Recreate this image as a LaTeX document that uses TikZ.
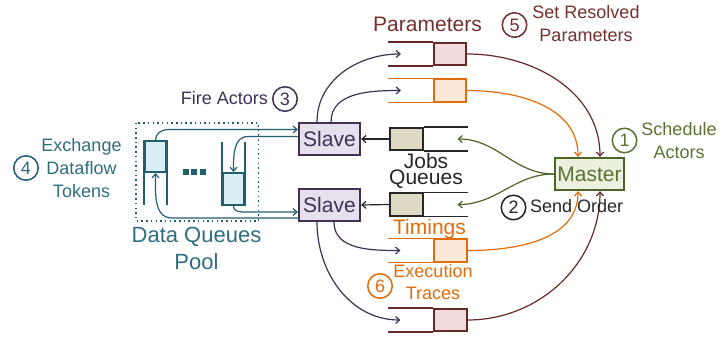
\documentclass[tikz,border=0pt]{standalone}
\usepackage{fontspec}
\setmainfont{Liberation Sans}
\usetikzlibrary{arrows.meta,calc}
\definecolor{cMar}{HTML}{66292A}
\definecolor{cMarT}{HTML}{74302F}
\definecolor{cMarL}{HTML}{F2DCDB}
\definecolor{cOra}{HTML}{E26B0A}
\definecolor{cOraL}{HTML}{FDE9D9}
\definecolor{cPur}{HTML}{403152}
\definecolor{cPurL}{HTML}{E5E0EC}
\definecolor{cGrn}{HTML}{4F6228}
\definecolor{cGrnT}{HTML}{5B7332}
\definecolor{cGrnL}{HTML}{EBF1DE}
\definecolor{cTeal}{HTML}{215E6E}
\definecolor{cTealT}{HTML}{2E6E80}
\definecolor{cTealL}{HTML}{DAEEF3}
\definecolor{cJob}{HTML}{DDD9C3}
\definecolor{cDark}{HTML}{262626}
\begin{document}
\begin{tikzpicture}[x=1pt,y=1pt,
  actor/.style={draw, line width=2.2pt, minimum width=61pt, minimum height=32pt, inner sep=0pt, font=\fontsize{21}{21}\selectfont},
  qbox/.style={draw, line width=1.6pt, minimum width=32.5pt, minimum height=22.5pt, inner sep=0pt},
  qline/.style={line width=1.6pt},
  arr/.style={line width=1.2pt, -{Straight Barb[length=4pt,width=7pt]}},
  num/.style={circle, draw, line width=1.5pt, minimum size=24.5pt, inner sep=0pt, font=\fontsize{18}{18}\selectfont},
  lab/.style={inner sep=0pt, align=center, font=\fontsize{18}{23}\selectfont},
  big/.style={inner sep=0pt, align=center, font=\fontsize{21}{16}\selectfont}]
\useasboundingbox (0,0) rectangle (719,339);

% actors
\node[actor, draw=cPur, fill=cPurL, text=cPur] (s1) at (329.5,200) {Slave};
\node[actor, draw=cPur, fill=cPurL, text=cPur] (s2) at (329.5,134) {Slave};
\node[actor, minimum width=69pt, draw=cGrn, fill=cGrnL, text=cGrnT] (m) at (589.5,165) {Master};

% parameter queues
\node[qbox, draw=cMar, fill=cMarL] (pq) at (450,285) {};
\draw[qline, cMar] (pq.north west) -- ++(-45,0) (pq.south west) -- ++(-45,0);
\node[qbox, draw=cOra, fill=cOraL] (po) at (450,248.5) {};
\draw[qline, cOra] (po.north west) -- ++(-45,0) (po.south west) -- ++(-45,0);
% jobs queues
\node[qbox, draw=cDark, fill=cJob] (j1) at (406.5,200) {};
\draw[qline, cDark] (j1.north east) -- ++(44,0) (j1.south east) -- ++(44,0);
\node[qbox, draw=cDark, fill=cJob] (j2) at (406.5,134.5) {};
\draw[qline, cDark] (j2.north east) -- ++(44,0) (j2.south east) -- ++(44,0);
% timings and traces queues
\node[qbox, draw=cOra, fill=cOraL] (tq) at (450.5,88.5) {};
\draw[qline, cOra] (tq.north west) -- ++(-45,0) (tq.south west) -- ++(-45,0);
\node[qbox, draw=cMar, fill=cMarL] (xq) at (450.5,19) {};
\draw[qline, cMar] (xq.north west) -- ++(-45,0) (xq.south west) -- ++(-45,0);

% data queues pool
\draw[cTeal, line width=1.5pt, dash pattern=on 1.5pt off 3.2pt] (136,216) rectangle (258.5,118);
\node[qbox, minimum width=21.5pt, minimum height=31.5pt, draw=cTeal, fill=cTealL] (lq) at (155.5,182.5) {};
\draw[qline, cTeal] (lq.north west) -- ++(0,-65) (lq.north east) -- ++(0,-65);
\node[qbox, minimum width=21.5pt, minimum height=32.5pt, draw=cTeal, fill=cTealL] (rq) at (233.5,150) {};
\draw[qline, cTeal] (rq.south west) -- ++(0,64) (rq.south east) -- ++(0,64);
\foreach \dx in {185.5,194,202.5} \fill[cTeal] (\dx-3,164) rectangle (\dx+3,170);

% teal arrows
\draw[arr, cTeal] (lq.north) to[out=90,in=180] (168,209.5) -- ([yshift=9.5pt]s1.west);
\draw[arr, cTeal] ([yshift=2.5pt]s1.west) -- (248,202.5) to[out=180,in=90] (rq.north);
\draw[arr, cTeal] (rq.south) to[out=-90,in=180] (250,127) -- ([yshift=-7pt]s2.west);
\draw[arr, cTeal] ([yshift=-13pt]s2.west) -- (172,121) to[out=180,in=-90] (lq.south);

% slave outputs
\draw[arr, cPur] ([xshift=-12.5pt]s1.north) to[out=90,in=180] ([xshift=-32pt]pq.west);
\draw[arr, cPur] ([xshift=1.5pt]s1.north) to[out=90,in=180] ([xshift=-32pt]po.west);
\draw[arr, cPur] ([xshift=4.5pt]s2.south) to[out=-90,in=180] ([xshift=-33pt]tq.west);
\draw[arr, cPur] ([xshift=-12.5pt]s2.south) to[out=-90,in=180] ([xshift=-33pt]xq.west);

% jobs to slaves
\draw[arr, cDark] (j1.west) -- (s1.east);
\draw[arr, cDark] (j2.west) -- (s2.east);

% master connections
\draw[arr, cGrn] (m.west) to[out=180,in=0] ([xshift=34pt]j1.east);
\draw[arr, cGrn] (m.west) to[out=180,in=0] ([xshift=34pt]j2.east);
\draw[arr, cMar] (pq.east) to[out=0,in=90] ([xshift=10.5pt]m.north);
\draw[arr, cOra] (po.east) to[out=0,in=90] ([xshift=-11.5pt]m.north);
\draw[arr, cOra] (tq.east) to[out=0,in=-90] ([xshift=-11.5pt]m.south);
\draw[arr, cMar] (xq.east) to[out=0,in=-90] ([xshift=10.5pt]m.south);

% labels
\node[big, anchor=base, text=cMarT] (lpar) at (427.5,307) {Parameters};
\node[num, draw=cMarT, text=cMarT] (n5) at (514.5,314) {5};
\node[lab, text=cMarT] (l5) at (586,315) {Set Resolved\\Parameters};
\node[num, draw=cGrnT, text=cGrnT] (n1) at (624.5,198.5) {1};
\node[lab, text=cGrnT] (l1) at (679,198.5) {Schedule\\Actors};
\node[num, draw=cDark, text=cDark] (n2) at (513.5,131.5) {2};
\node[lab, anchor=base west, text=cDark] (l2) at (530,126) {Send Order};
\node[big, text=cDark] (ljob) at (426,168) {Jobs\\Queues};
\node[big, anchor=base, text=cOra] (ltim) at (429.5,104) {Timings};
\node[num, draw=cOra, text=cOra] (n6) at (380,53) {6};
\node[lab, font=\fontsize{18}{22}\selectfont, text=cOra] (l6) at (433,56.5) {Execution\\Traces};
\node[lab, anchor=base east, text=cPur] (l3) at (268,234) {Fire Actors};
\node[num, draw=cPur, text=cPur] (n3) at (285,240) {3};
\node[num, draw=cTeal, text=cTealT] (n4) at (26,171) {4};
\node[lab, text=cTealT] (l4) at (81.5,170.5) {Exchange\\Dataflow\\Tokens};
\node[lab, font=\fontsize{22}{27}\selectfont, text=cTealT] (lpool) at (196.5,90.5) {Data Queues\\Pool};
\end{tikzpicture}
\end{document}
